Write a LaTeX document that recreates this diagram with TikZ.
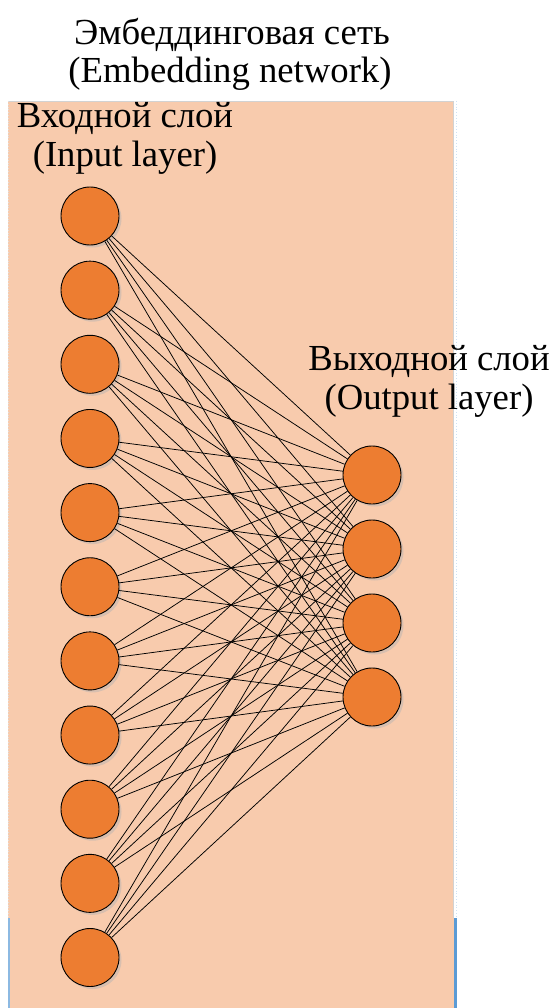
\documentclass[tikz,border=0pt]{standalone}
\usepackage{fontspec}
\setmainfont{Liberation Serif}
\begin{document}
\begin{tikzpicture}[x=1pt,y=-1pt,
  panel/.style={fill=panelfill,draw=none},
  neuron/.style={circle,draw=black,line width=0.9pt,fill=neuronfill,
    minimum size=58pt,inner sep=0pt},
  nshadow/.style={circle,fill=gray!60,opacity=0.45,minimum size=58pt,inner sep=0pt},
  link/.style={draw=black,line width=0.75pt},
  label/.style={font=\fontsize{36.7}{39}\selectfont,anchor=base,inner sep=0pt}]
\definecolor{panelfill}{HTML}{F8CBAD}
\definecolor{neuronfill}{HTML}{ED7D31}
\definecolor{edgeblue}{HTML}{5B9BD5}
\useasboundingbox (0,0) rectangle (554,1008);
\fill[white] (0,0) rectangle (554,1008);
% background panel of the network
\fill[panelfill] (8,101) rectangle (454,1008);
\draw[gray!35,line width=1pt] (8,101.5) -- (453.5,101.5) -- (453.5,918);
\draw[gray!25,line width=0.8pt,dotted] (8.5,101) -- (8.5,918);
\draw[edgeblue!30,line width=0.8pt,dotted] (456,101) -- (456,918);
\draw[edgeblue,line width=3pt] (455.5,918) -- (455.5,1008);
\draw[edgeblue!70,line width=2pt] (9,918) -- (9,1008);
% titles
\node[label] (title1) at (232,45) {Эмбеддинговая сеть};
\node[label] (title2) at (230,83) {(Embedding network)};
\node[label] (in1) at (125,128) {Входной слой};
\node[label] (in2) at (125,167) {(Input layer)};
\node[label] (out1) at (429,370) {Выходной слой};
\node[label] (out2) at (429,409) {(Output layer)};
% shadows
\foreach \i in {0,...,10}
  \node[nshadow] at ({90+2.5},{216+74.15*\i+2.5}) {};
\foreach \j in {0,...,3}
  \node[nshadow] at ({372+2.5},{475+74*\j+2.5}) {};
% neurons
\foreach \i in {0,...,10}
  \node[neuron] (x\i) at (90,{216+74.15*\i}) {};
\foreach \j in {0,...,3}
  \node[neuron] (y\j) at (372,{475+74*\j}) {};
% full connections
\foreach \i in {0,...,10}
  \foreach \j in {0,...,3}
    \draw[link] (x\i) -- (y\j);
\end{tikzpicture}
\end{document}
